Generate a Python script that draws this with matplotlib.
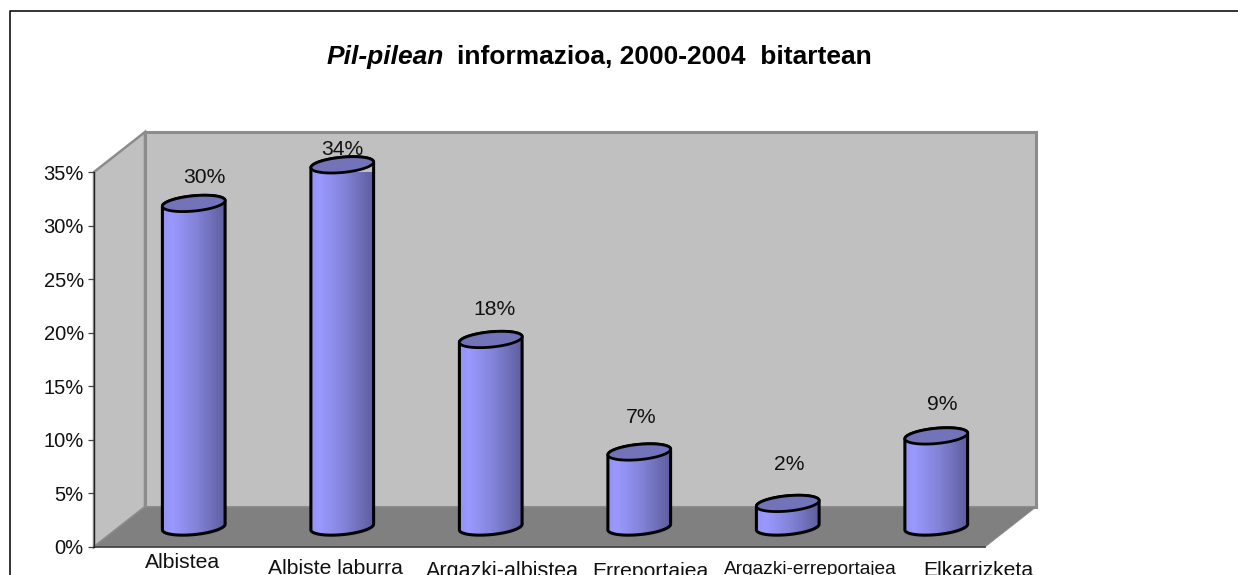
import numpy as np
import matplotlib
matplotlib.use("Agg")
import matplotlib.pyplot as plt
from matplotlib.patches import Polygon
from matplotlib.lines import Line2D
from matplotlib.colors import LinearSegmentedColormap

plt.rcParams['font.family'] = ['Liberation Sans', 'DejaVu Sans']

categories = ["Albistea", "Albiste laburra", "Argazki-albistea", "Erreportajea",
              "Argazki-erreportajea", "Elkarrizketa"]
values = [30.2, 33.8, 17.5, 7.0, 2.2, 8.5]
value_labels = ["30%", "34%", "18%", "7%", "2%", "9%"]
yticks = [0, 5, 10, 15, 20, 25, 30, 35]

W, H = 1238, 575
fig = plt.figure(figsize=(W / 100, H / 100), dpi=100, facecolor="white")
fig.add_artist(Line2D([9.5 / W, 9.5 / W, 1], [0, 1 - 10.5 / H, 1 - 10.5 / H], transform=fig.transFigure,
                      color="#111111", lw=1.2))

L, R, B, T = 94, 985, 547, 172
ax = fig.add_axes([L / W, 1 - B / H, (R - L) / W, (B - T) / H])
ax.patch.set_visible(False)
for s in ("top", "right", "bottom"):
    ax.spines[s].set_visible(False)
ax.spines["left"].set_color("#222222")
ax.spines["left"].set_linewidth(0.9)
ax.spines["left"].set_zorder(3)

n = len(categories)
px_x = n / (R - L)
px_y = 35 / (B - T)
dx, dy = 51 * px_x, 40 * px_y

wall_c, floor_c, edge_c = "#C0C0C0", "#808080", "#8C8C8C"
ax.add_patch(Polygon([(0, 0), (dx, dy), (dx, 35 + dy), (0, 35)], fc=wall_c, ec=edge_c, lw=1.8, clip_on=False, zorder=1))
ax.add_patch(Polygon([(dx, dy), (n + dx, dy), (n + dx, 35 + dy), (dx, 35 + dy)], fc=wall_c, ec=edge_c, lw=2.2, clip_on=False, zorder=1))
ax.add_patch(Polygon([(0, 0), (dx, dy), (n + dx, dy), (n, 0)], fc=floor_c, ec=edge_c, lw=0.6, clip_on=False, zorder=2))
ax.plot([0, n], [0, 0], color="#404040", lw=1.2, clip_on=False, zorder=3)

ax.set_yticks(yticks)
ax.set_yticklabels([f"{t}%" for t in yticks], fontsize=14.5)
ax.tick_params(axis="y", length=4.3, width=0.9, pad=3, color="#444444", labelcolor="#111111")
ax.set_xticks([])

cmap = LinearSegmentedColormap.from_list("cyl", [(0, "#9494F6"), (0.15, "#9999FF"), (0.55, "#8282D8"), (1, "#5E5E9E")])
grad = np.linspace(0, 1, 40).reshape(1, -1)
theta = np.linspace(0, 2 * np.pi, 121)


def ellipse(cx, cy):
    a, b, ang = 31.5, 7.6, np.deg2rad(5.5)
    ex, ey = a * np.cos(theta), b * np.sin(theta)
    return (cx + (ex * np.cos(ang) - ey * np.sin(ang)) * px_x,
            cy + (ex * np.sin(ang) + ey * np.cos(ang)) * px_y)


def side_path(cx, base, top):
    bx, by = ellipse(cx, base)
    tx, ty = ellipse(cx, top)
    lo = np.argsort(bx[60:])
    up = np.argsort(tx[:61])[::-1]
    return np.column_stack([np.r_[bx[60:][lo], tx[:61][up]], np.r_[by[60:][lo], ty[:61][up]]])


# text placement, in pixels
value_dx = [10.5, 0, 3.5, 2, 1.5, 6]
value_dy = [20, 9.5, 24.5, 29, 33, 26]
label_left = [145, 268, 426, 592, 724, 923]
label_baseline = [568, 574, 577, 577, 574, 576]
label_size = [15.2, 15.2, 15.5, 15.2, 13.8, 15.2]

base = dy / 2
for i, v in enumerate(values):
    cx = i + 0.5 + dx / 2
    top = base + v
    xmin, xmax = cx - 32 * px_x, cx + 32 * px_x
    im = ax.imshow(grad, extent=[xmin, xmax, base - 2, top + 2], aspect="auto", cmap=cmap, zorder=4)
    patch = Polygon(side_path(cx, base, top), closed=True, fc="none", ec="black", lw=2.2,
                    joinstyle="round", clip_on=False, zorder=5)
    ax.add_patch(patch)
    im.set_clip_path(patch)
    ex, ey = ellipse(cx, top)
    ax.add_patch(Polygon(np.column_stack([ex, ey]), closed=True, fc="#7373BA", ec="black", lw=2.0,
                         clip_on=False, zorder=6))
    ax.annotate(value_labels[i], (cx, top), xytext=(value_dx[i], value_dy[i]), textcoords="offset pixels",
                ha="center", va="baseline", fontsize=15.2, color="#111111", zorder=7, annotation_clip=False)
    fig.text(label_left[i] / W, 1 - label_baseline[i] / H, categories[i],
             ha="left", va="baseline", fontsize=label_size[i], color="#111111")

ax.set_xlim(0, n)
ax.set_ylim(0, 35)

t1 = fig.text(327 / W, 1 - 64 / H, "Pil-pilean", fontsize=19, fontweight="bold", fontstyle="italic", va="baseline")
fig.canvas.draw()
bb = t1.get_window_extent()
fig.text((bb.x1 + 13) / W, 1 - 64 / H, "informazioa, 2000-2004  bitartean", fontsize=19, fontweight="bold", va="baseline")

fig.savefig("out.png", dpi=100, facecolor="white")
